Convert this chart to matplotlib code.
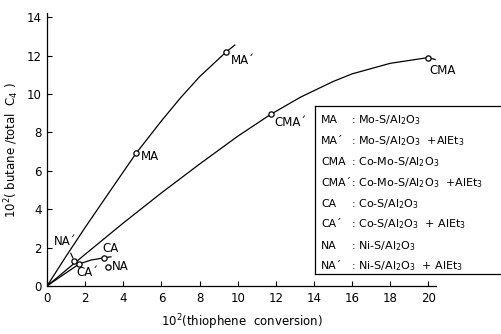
import matplotlib
matplotlib.use("Agg")
import matplotlib.pyplot as plt
from matplotlib.lines import Line2D

# measured points (x = 10^2 thiophene conversion, y = 10^2 butane/total C4)
point_names = ["MA", "MA'", "CMA'", "CMA", "CA'", "CA", "NA", "NA'"]
point_x = [4.67, 9.37, 11.73, 20.0, 1.69, 3.0, 3.18, 1.43]
point_y = [6.91, 12.17, 8.94, 11.9, 1.15, 1.47, 1.0, 1.29]

# hand drawn curves
ma_curve_x = [0, 1, 2, 3, 4.67, 6, 7, 8, 9.37, 9.85]
ma_curve_y = [0, 1.55, 3.05, 4.5, 6.91, 8.6, 9.8, 10.9, 12.17, 12.55]
cma_curve_x = [0, 2, 4, 6, 8, 10, 11.73, 13.3, 15, 16, 18, 20, 20.35]
cma_curve_y = [0, 1.65, 3.28, 4.85, 6.35, 7.8, 8.94, 9.84, 10.65, 11.05, 11.6, 11.9, 11.8]
ca_curve_x = [0, 0.8, 1.69, 2.3, 3.0, 3.35]
ca_curve_y = [0, 0.55, 1.15, 1.35, 1.47, 1.52]

x_ticks = [0, 2, 4, 6, 8, 10, 12, 14, 16, 18, 20]
y_ticks = [0, 2, 4, 6, 8, 10, 12, 14]

legend_names = ["MA", "MA\u00b4", "CMA", "CMA\u00b4", "CA", "CA\u00b4", "NA", "NA\u00b4"]
legend_desc = [
    ": Mo-S/Al$_2$O$_3$",
    ": Mo-S/Al$_2$O$_3$  +AlEt$_3$",
    ": Co-Mo-S/Al$_2$O$_3$",
    ": Co-Mo-S/Al$_2$O$_3$  +AlEt$_3$",
    ": Co-S/Al$_2$O$_3$",
    ": Co-S/Al$_2$O$_3$  + AlEt$_3$",
    ": Ni-S/Al$_2$O$_3$",
    ": Ni-S/Al$_2$O$_3$  + AlEt$_3$",
]

# label offsets in points (style, not data)
label_offsets = {
    "MA": (3.6, -2.2), "MA'": (3.6, -5.8), "CMA'": (2.9, -5.8), "CMA": (0.5, -9.4),
    "CA'": (-2.2, -6.5), "CA": (-1.5, 6.5), "NA": (3.0, 0.0),
}

W, H = 502, 334
fig = plt.figure(figsize=(W / 100, H / 100), dpi=100)
ax = fig.add_axes([47 / W, 48 / H, 389 / W, 272.6 / H])

lw = 0.9
ax.plot(ma_curve_x, ma_curve_y, color="black", lw=lw)
ax.plot(cma_curve_x, cma_curve_y, color="black", lw=lw)
ax.plot(ca_curve_x, ca_curve_y, color="black", lw=lw)
ax.plot(point_x, point_y, linestyle="none", marker="o", ms=3.8,
        mfc="white", mec="black", mew=0.9, zorder=3)

fs = 8.5
for name, x, y in zip(point_names, point_x, point_y):
    shown = name.replace("'", "\u00b4")
    if name == "NA'":
        ax.annotate(shown, (x, y), xytext=(-14.4, 14.4), textcoords="offset points",
                    ha="left", va="center", fontsize=fs,
                    arrowprops=dict(arrowstyle="-", lw=0.8, shrinkA=2, shrinkB=2.5))
        continue
    ax.annotate(shown, (x, y), xytext=label_offsets[name], textcoords="offset points",
                ha="left", va="center", fontsize=fs)

ax.set_xlim(0, 20.4)
ax.set_ylim(0, 14.2)
ax.set_xticks(x_ticks)
ax.set_yticks(y_ticks)
ax.tick_params(direction="in", length=3.6, width=0.8, labelsize=8.5, pad=4)
for side in ["top", "right"]:
    ax.spines[side].set_visible(False)
for side in ["left", "bottom"]:
    ax.spines[side].set_linewidth(0.9)

ax.set_xlabel("10$^2$(thiophene  conversion)", fontsize=8.5, labelpad=6)
ax.set_ylabel("10$^2$( butane /total  C$_4$ )", fontsize=8.5, labelpad=4)

# legend box (right edge runs off the page)
bx0, by0, by1 = 315 / W, 1 - 274 / H, 1 - 106 / H
fig.add_artist(Line2D([bx0, bx0], [by0, by1], color="black", lw=0.9))
fig.add_artist(Line2D([bx0, 1.0], [by1, by1], color="black", lw=0.9))
fig.add_artist(Line2D([bx0, 1.0], [by0, by0], color="black", lw=0.9))

row_y = [120, 141, 162, 183, 204, 224, 246, 266]
for name, desc, yy in zip(legend_names, legend_desc, row_y):
    fig.text(321 / W, 1 - yy / H, name, fontsize=7.8, ha="left", va="center")
    fig.text(351 / W, 1 - yy / H, desc, fontsize=8, ha="left", va="center")

fig.savefig("out.png", dpi=100)
